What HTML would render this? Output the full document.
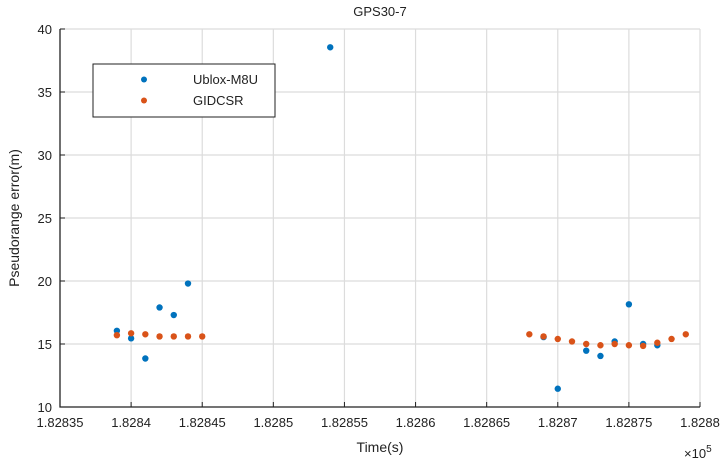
<!DOCTYPE html>
<html><head><meta charset="utf-8"><style>
body{margin:0;background:#fff;}
svg{font-family:"Liberation Sans",Arial,sans-serif;}
</style></head><body>
<svg id="c" width="728" height="466">
<g id="grid"></g>
<g id="axes"></g>
<g id="marks"></g>
<text x="380" y="16" font-size="13" text-anchor="middle" fill="#222">GPS30-7</text>
<text x="380" y="452" font-size="14" text-anchor="middle" fill="#222">Time(s)</text>
<text transform="translate(19,218) rotate(-90)" font-size="14" text-anchor="middle" fill="#222">Pseudorange error(m)</text>
<text x="684" y="458" font-size="13" fill="#222">×10<tspan dy="-6" font-size="10">5</tspan></text>
<g>
<rect x="93" y="64" width="182" height="53" fill="#fff" stroke="#222" stroke-width="1"/>
<circle cx="144" cy="79.5" r="3" fill="#0072BD"/>
<text x="193" y="84" font-size="13" fill="#222">Ublox-M8U</text>
<circle cx="144" cy="100.5" r="3" fill="#D95319"/>
<text x="193" y="105" font-size="13" fill="#222">GIDCSR</text>
</g>
</svg>
<script>
const xTicks=[182835,182840,182845,182850,182855,182860,182865,182870,182875,182880];
const xTickLabels=["1.82835","1.8284","1.82845","1.8285","1.82855","1.8286","1.82865","1.8287","1.82875","1.8288"];
const yTicks=[10,15,20,25,30,35,40];
const ubloxT=[182839,182840,182841,182842,182843,182844,182854,182869,182870,182872,182873,182874,182875,182876,182877];
const ubloxV=[16.05,15.45,13.85,17.9,17.3,19.8,38.55,15.55,11.45,14.47,14.05,15.2,18.15,15.0,14.9];
const gidT=[182839,182840,182841,182842,182843,182844,182845,182868,182869,182870,182871,182872,182873,182874,182875,182876,182877,182878,182879];
const gidV=[15.7,15.85,15.77,15.6,15.6,15.6,15.6,15.77,15.6,15.4,15.2,15.0,14.9,15.0,14.9,14.85,15.1,15.4,15.77];
const L=60,R=700,T=29,B=407;
const xs=v=>L+(v-182835)/(182880-182835)*(R-L);
const ys=v=>B-(v-10)/(40-10)*(B-T);
const NS="http://www.w3.org/2000/svg";
function mk(tag,parent,attrs){const e=document.createElementNS(NS,tag);for(const k in attrs)e.setAttribute(k,attrs[k]);parent.appendChild(e);return e;}
const grid=document.getElementById('grid'),axes=document.getElementById('axes'),marks=document.getElementById('marks');
xTicks.forEach((t,i)=>{const x=xs(t);
 if(i>0){const g=mk('line',grid,{x1:x,x2:x,y1:T,y2:B,stroke:'#dcdcdc','stroke-width':1.2});
 
 }
 const tk=mk('line',axes,{x1:x,x2:x,y1:B,y2:B-5,stroke:'#222','stroke-width':1});
 
 
 const tx=mk('text',axes,{x:x,y:B+20,'font-size':13,'text-anchor':'middle',fill:'#222'});tx.textContent=xTickLabels[i];
 
 
});
yTicks.forEach((t,i)=>{const y=ys(t);
 if(i>0){const g=mk('line',grid,{x1:L,x2:R,y1:y,y2:y,stroke:'#dcdcdc','stroke-width':1.2});
 
 }
 const tk=mk('line',axes,{x1:L,x2:L+5,y1:y,y2:y,stroke:'#222','stroke-width':1});
 
 
 const tx=mk('text',axes,{x:L-8,y:y+5,'font-size':13,'text-anchor':'end',fill:'#222'});tx.textContent=t;
 
 
});
const ax=mk('path',axes,{d:`M${L},${T} V${B} H${R}`,fill:'none',stroke:'#222','stroke-width':1.3});


ubloxT.forEach((t,i)=>{const c=mk('circle',marks,{cx:xs(t),cy:ys(ubloxV[i]),r:3.2,fill:'#0072BD'});
 
 });
gidT.forEach((t,i)=>{const c=mk('circle',marks,{cx:xs(t),cy:ys(gidV[i]),r:3.2,fill:'#D95319'});
 
 });
</script>
</body></html>
